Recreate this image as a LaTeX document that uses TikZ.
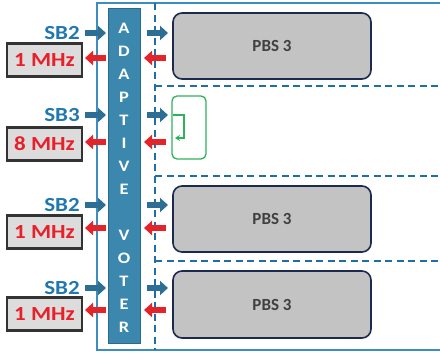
\documentclass[tikz,border=0pt]{standalone}
\usepackage{fontspec}
\setmainfont{Carlito}
\newfontfamily\widefont{Carlito}[FakeStretch=1.15]
\usetikzlibrary{arrows.meta}
\definecolor{framec}{HTML}{3C8DC0}
\definecolor{dashc}{HTML}{1E6FA5}
\definecolor{barfill}{HTML}{3B87AE}
\definecolor{bardraw}{HTML}{2A6A8E}
\definecolor{bluearr}{HTML}{2C6E94}
\definecolor{redarr}{HTML}{E3242B}
\definecolor{sbtext}{HTML}{1F78B0}
\definecolor{mhztext}{HTML}{E8202A}
\definecolor{mhzfill}{HTML}{DCDCDC}
\definecolor{pbsfill}{HTML}{C3C3C3}
\definecolor{pbsdraw}{HTML}{1C2A50}
\definecolor{greenc}{HTML}{2DB35A}
\tikzset{
  barletter/.style={text=white, font=\widefont\bfseries\fontsize{16}{16}\selectfont, inner sep=0},
  sblabel/.style={text=sbtext, font=\widefont\bfseries\fontsize{20}{20}\selectfont, inner sep=0},
  mhzbox/.style={draw=black!80, line width=2.2pt, fill=mhzfill, minimum width=75pt, minimum height=33pt, text=mhztext, font=\widefont\bfseries\fontsize{20}{20}\selectfont, inner sep=0},
  pbsbox/.style={draw=pbsdraw, line width=1.6pt, fill=pbsfill, rounded corners=9pt, minimum width=198pt, text=black!75, font=\bfseries\fontsize{17}{17}\selectfont},
  bluearrow/.style={draw=bluearr, line width=6pt, -{Triangle[length=8pt,width=14pt]}},
  redarrow/.style={draw=redarr, line width=6pt, -{Triangle[length=8pt,width=14pt]}},
  dashline/.style={draw=dashc, line width=1.6pt, dash pattern=on 7pt off 4.5pt},
}
\begin{document}
\begin{tikzpicture}[x=1pt,y=-1pt]
\useasboundingbox (0,0) rectangle (440,354);
\clip (0,0) rectangle (440,354);
% outer frame
\draw[framec, line width=1.5pt] (442,3) -- (97,3) -- (97,350) -- (442,350);
% dashed separators
\draw[dashline] (155,3) -- (155,350);
\draw[dashline] (155,86) -- (442,86);
\draw[dashline] (155,176) -- (442,176);
\draw[dashline] (155,261) -- (442,261);
% voter bar
\node[draw=bardraw, fill=barfill, line width=0.8pt, minimum width=32pt, minimum height=335pt, inner sep=0] (bar) at (124,175.5) {};
\foreach \l [count=\k from 0] in {A,D,A,P,T,I,V,E,{},V,O,T,E,R}{
  \node[barletter] (L\k) at (124,{28+23*\k}) {\l};
}
% PBS boxes
\node[pbsbox, minimum height=66pt] (pbs1) at (272,46) {PBS 3};
\node[pbsbox, minimum height=66pt] (pbs3) at (272,219) {PBS 3};
\node[pbsbox, minimum height=67pt] (pbs4) at (272,304.5) {PBS 3};
% green box
\node[draw=greenc, line width=1.3pt, rounded corners=5pt, minimum width=34pt, minimum height=63pt, inner sep=0] (gbox) at (189,127.5) {};
\coordinate (g1) at (173,115);
\coordinate (g2) at (184,115);
\coordinate (g3) at (184,138);
\coordinate (g4) at (175,138);
\draw[greenc, line width=1.3pt, -{Stealth[length=5pt,width=6pt]}] (g1) -- (g2) -- (g3) -- (g4);
% rows
\foreach \r/\sb/\mhz/\ys/\yr/\yb in {1/SB2/1 MHz/33/58/60, 2/SB3/8 MHz/115/142/144, 3/SB2/1 MHz/205/228/232, 4/SB2/1 MHz/288/310/314}{
  \node[sblabel] (sb\r) at (62,\ys) {\sb};
  \node[mhzbox] (mhz\r) at (44.5,\yb) {\mhz};
  \coordinate (bi\r) at (85,\ys);
  \coordinate (bo\r) at (106,\ys);
  \coordinate (ri\r) at (106,\yr);
  \coordinate (ro\r) at (85,\yr);
  \coordinate (ci\r) at (147,\ys);
  \coordinate (co\r) at (168,\ys);
  \coordinate (di\r) at (166,\yr);
  \coordinate (do\r) at (144,\yr);
  \draw[bluearrow] (bi\r) -- (bo\r);
  \draw[redarrow] (ri\r) -- (ro\r);
  \draw[bluearrow] (ci\r) -- (co\r);
  \draw[redarrow] (di\r) -- (do\r);
}
\end{tikzpicture}
\end{document}
